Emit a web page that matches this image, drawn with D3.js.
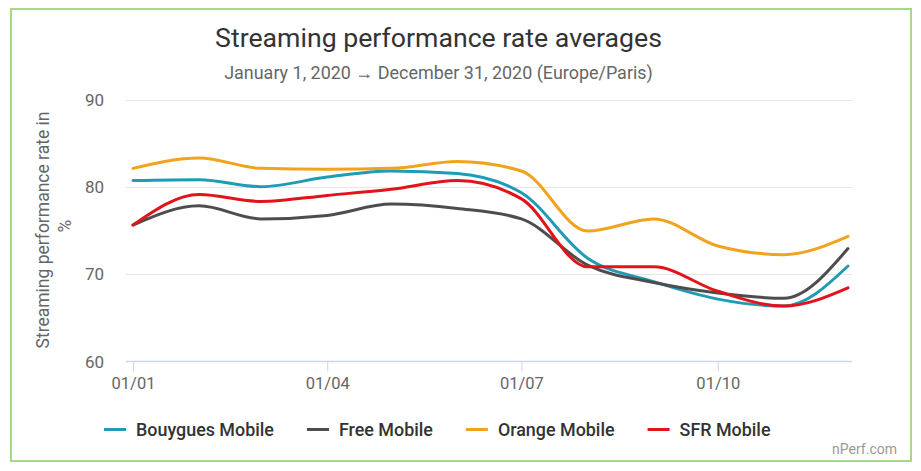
<!DOCTYPE html>
<html>
<head>
<meta charset="utf-8">
<script src="https://cdn.jsdelivr.net/npm/d3@7/dist/d3.min.js"></script>
<style>
html,body{margin:0;padding:0;background:#fff;}
svg{display:block;font-family:Roboto,"Noto Sans",sans-serif;}
</style>
</head>
<body>
<svg id="chart" width="921" height="471"></svg>
<script>
const months = ["2020-01-01","2020-02-01","2020-03-01","2020-04-01","2020-05-01","2020-06-01","2020-07-01","2020-08-01","2020-09-01","2020-10-01","2020-11-01","2020-12-01"];
const bouygues = [80.7, 80.8, 80.0, 81.1, 81.8, 81.5, 79.3, 71.8, 69.1, 67.1, 66.3, 70.9];
const free     = [75.6, 77.8, 76.3, 76.7, 78.0, 77.5, 76.3, 71.0, 69.0, 67.8, 67.2, 72.9];
const orange   = [82.1, 83.3, 82.1, 82.0, 82.1, 82.9, 81.8, 74.9, 76.3, 73.2, 72.2, 74.3];
const sfr      = [75.6, 79.1, 78.3, 79.0, 79.7, 80.7, 78.6, 70.8, 70.8, 68.0, 66.3, 68.4];
const seriesNames = ["Bouygues Mobile","Free Mobile","Orange Mobile","SFR Mobile"];
const seriesColors = ["#1f9bb6","#4d4d4d","#f2a31e","#e2131b"];
const yTicks = [60, 70, 80, 90];
const xTickDates = ["2020-01-01","2020-04-01","2020-07-01","2020-10-01"];
const titleText = "Streaming performance rate averages";
const subtitleText = "January 1, 2020 \u2192 December 31, 2020 (Europe/Paris)";
const yTitleLines = ["Streaming performance rate in", "%"];
const credit = "nPerf.com";

const parse = d3.utcParse("%Y-%m-%d");
const fmt = d3.utcFormat("%d/%m");
const seriesValues = [bouygues, free, orange, sfr];

const svg = d3.select("#chart");
const cx = 438.5;

// frame
svg.append("rect").attr("x",11).attr("y",9).attr("width",900).attr("height",452)
  .attr("fill","#fff").attr("stroke","#a8d887").attr("stroke-width",2);

// fit helper
function fit(sel, target){
  const w = sel.node().getComputedTextLength();
  const fs = parseFloat(sel.attr("font-size"));
  sel.attr("font-size", (fs*target/w).toFixed(2));
}

const title = svg.append("text").attr("x",cx).attr("y",46.5).attr("text-anchor","middle")
  .attr("font-size",26).attr("fill","#333").text(titleText);
fit(title, 447);
const sub = svg.append("text").attr("x",cx).attr("y",78.5).attr("text-anchor","middle")
  .attr("font-size",18).attr("fill","#666").text(subtitleText);
fit(sub, 429);

const plotL = 126, plotR = 852;
const x = d3.scaleUtc().domain([parse(months[0]), parse(months[months.length-1])]).range([133, 848]);
const y = d3.scaleLinear().domain([60, 90]).range([361, 99.5]);

// grid
const grid = svg.append("g");
yTicks.forEach(t => {
  grid.append("line").attr("x1",plotL).attr("x2",plotR).attr("y1",Math.round(y(t))+0.5).attr("y2",Math.round(y(t))+0.5)
    .attr("stroke", t===60 ? "#ccd6eb" : "#e6e6e6").attr("stroke-width", t===60 ? 1.5 : 1);
});

// y axis labels
const yAxis = d3.axisLeft(y).tickValues(yTicks).tickSize(0).tickPadding(0);
const yg = svg.append("g").attr("transform",`translate(104,0)`).call(yAxis);
yg.select(".domain").remove();
yg.selectAll("text").attr("font-size",17).attr("fill","#666").attr("font-family","Roboto").attr("dy","0.36em");

// x axis
const xAxis = d3.axisBottom(x).tickValues(xTickDates.map(parse)).tickFormat(fmt).tickSize(10).tickPadding(6);
const xg = svg.append("g").attr("transform",`translate(0,${Math.round(y(60))+0.5})`).call(xAxis);
xg.select(".domain").remove();
xg.selectAll(".tick line").attr("stroke","#ccd6eb");
xg.selectAll("text").attr("font-size",16.5).attr("fill","#666").attr("font-family","Roboto");

// y title
const yt = svg.append("text").attr("transform","rotate(-90)").attr("text-anchor","middle")
  .attr("font-size",17.5).attr("fill","#666");
yt.append("tspan").attr("x",-230).attr("y",48.5).text(yTitleLines[0]);
yt.append("tspan").attr("x",-226).attr("y",71).text(yTitleLines[1]);

// lines
const line = d3.line().x((d,i)=>x(parse(months[i]))).y(d=>y(d)).curve(d3.curveMonotoneX);
seriesValues.forEach((vals, k) => {
  svg.append("path").attr("d", line(vals)).attr("fill","none")
    .attr("stroke", seriesColors[k]).attr("stroke-width",3).attr("stroke-linejoin","round").attr("stroke-linecap","round");
});

// legend
const legend = svg.append("g");
const items = seriesNames.map((name,k)=>{
  const g = legend.append("g");
  g.append("line").attr("x1",0).attr("x2",22).attr("y1",0).attr("y2",0).attr("stroke",seriesColors[k]).attr("stroke-width",3);
  const t = g.append("text").attr("x",32).attr("y",6.5).attr("font-size",18).attr("font-weight",500).attr("fill","#333").text(name);
  return {g,t};
});
// size to match first label width
fit(items[0].t, 138);
const fs = items[0].t.attr("font-size");
items.forEach(it=>it.t.attr("font-size",fs));
let widths = items.map(it=>32 + it.t.node().getComputedTextLength());
const spacing = 33;
const total = d3.sum(widths) + spacing*(widths.length-1);
let lx = 104;
items.forEach((it,i)=>{ it.g.attr("transform",`translate(${lx},429.5)`); lx += widths[i] + spacing; });

svg.append("text").attr("x",897).attr("y",453.5).attr("text-anchor","end").attr("font-size",14).attr("fill","#999").text(credit);
</script>
</body>
</html>
